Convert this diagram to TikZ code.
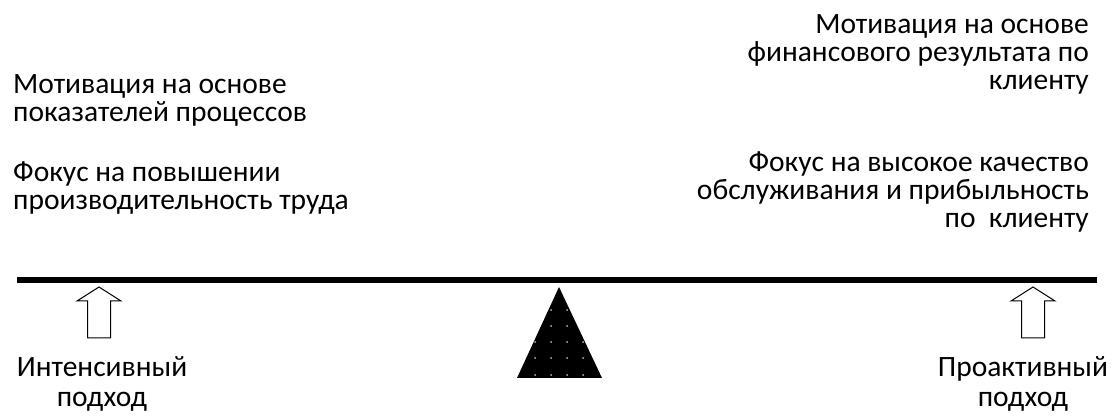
\documentclass[tikz,border=0pt]{standalone}
\usepackage{fontspec}
\setmainfont{Carlito}
\usepackage{tikz}
\usetikzlibrary{
    positioning,
    calc
}
\tikzstyle{notel} = [
    anchor=base west,
    inner sep=0pt,
    align=left,
    font=\fontsize{29.5}{28.5}\selectfont
]
\tikzstyle{noter} = [
    anchor=base east,
    inner sep=0pt,
    align=right,
    font=\fontsize{29.5}{28}\selectfont
]
\tikzstyle{approach} = [
    anchor=base,
    inner sep=0pt,
    align=center,
    font=\fontsize{29.5}{30}\selectfont
]
\tikzstyle{beam} = [
    line width=5.5pt,
    draw=black
]
\tikzstyle{hollowarrow} = [
    draw=black,
    line width=1pt,
    fill=white,
    line join=miter
]

\begin{document}
\begin{tikzpicture}[x=1pt, y=-1pt]
        \useasboundingbox (0,0) rectangle (1114,419);

        % Beam
        \coordinate (beamL) at (17,280);
        \coordinate (beamR) at (1097,280);
        \draw[beam] (beamL) -- (beamR);

        % Fulcrum
        \coordinate (apex) at (559,287);
        \coordinate (baseL) at (517,378);
        \coordinate (baseR) at (602,378);
        \fill[black] (apex) -- (baseR) -- (baseL) -- cycle;
        \begin{scope}
            \clip (apex) -- (baseR) -- (baseL) -- cycle;
            \foreach \x in {535,551,567,583}
                \foreach \y in {310,326,342,358,375}
                    \fill[gray!55] (\x,\y) circle (1pt);
        \end{scope}

        % Hollow arrows
        \foreach \x in {99,1033} {
            \draw[hollowarrow] (\x,287) -- (\x+22,301) -- (\x+11.5,301) -- (\x+11.5,338)
                -- (\x-11.5,338) -- (\x-11.5,301) -- (\x-22,301) -- cycle;
        }

        % Left side (anchored at the baseline of the last line)
        \node[notel] (motivl) at (13,122) {Мотивация на основе\\показателей процессов};
        \node[notel] (focusl) at (13,210) {Фокус на повышении\\производительность труда};
        \node[approach] (intens) at (102,407) {Интенсивный\\подход};

        % Right side
        \node[noter] (motivr) at (1089,90) {Мотивация на основе\\финансового результата по\\клиенту};
        \node[noter] (focusr) at (1089,228) {Фокус на высокое качество\\обслуживания и прибыльность\\по\ \ клиенту};
        \node[approach] (proact) at (1023,407) {Проактивный\\подход};
    \end{tikzpicture}
\end{document}
